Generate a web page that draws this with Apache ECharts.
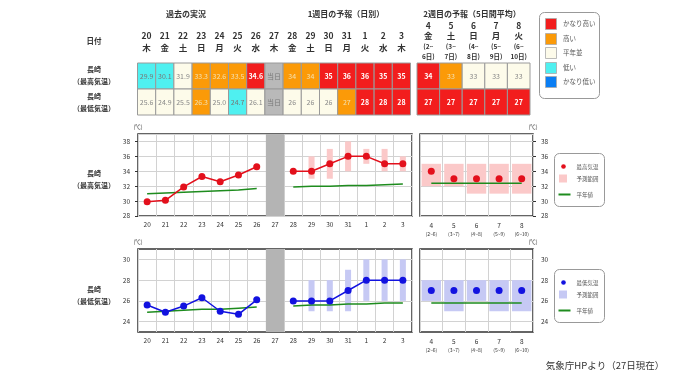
<!DOCTYPE html>
<html><head><meta charset="utf-8">
<script src="https://cdn.jsdelivr.net/npm/echarts@6/dist/echarts.min.js"></script>
<style>html,body{margin:0;padding:0;background:#fff}#c{width:680px;height:382px}</style>
</head><body><div id="c"></div>
<script>
const FONT = '"Noto Sans CJK JP", "Noto Sans", sans-serif';

// ---- table / axis categories ----
const days = ['20','21','22','23','24','25','26','27','28','29','30','31','1','2','3'];
const weekdays = ['木','金','土','日','月','火','水','木','金','土','日','月','火','水','木'];
const w2Days = ['4','5','6','7','8'];
const w2Weekdays = ['金','土','日','月','火'];
const w2Start = ['2','3','4','5','6'];
const w2End = ['6','7','8','9','10'];

// class: 0 かなり低い, 1 低い, 2 平年並, 3 高い, 4 かなり高い, -1 当日
const maxTableText = ['29.9','30.1','31.9','33.3','32.6','33.5','34.6','当日','34','34','35','36','36','35','35'];
const maxTableClass = [1,1,2,3,3,3,4,-1,3,3,4,4,4,4,4];
const minTableText = ['25.6','24.9','25.5','26.3','25.0','24.7','26.1','当日','26','26','26','27','28','28','28'];
const minTableClass = [2,2,2,3,2,1,2,-1,2,2,2,3,4,4,4];
const w2MaxText = ['34','33','33','33','33'];
const w2MaxClass = [4,3,2,2,2];
const w2MinText = ['27','27','27','27','27'];
const w2MinClass = [4,4,4,4,4];

// ---- chart series ----
const maxObs = [29.9,30.1,31.9,33.3,32.6,33.5,34.6,null,34,34,35,36,36,35,35];
const maxLow = [null,null,null,null,null,null,null,null,null,33,33,34,35,34,34];
const maxHigh = [null,null,null,null,null,null,null,null,null,36,37,38,37,37,36];
const maxNormal = [31.0,31.1,31.2,31.3,31.4,31.5,31.7,null,31.9,32.0,32.0,32.1,32.1,32.2,32.3];
const w2Max = [34,33,33,33,33];
const w2MaxLow = [32,32,31,31,31];
const w2MaxHigh = [35,35,35,35,35];
const w2MaxNormal = [32.4,32.4,32.4,32.4,32.4];

const minObs = [25.6,24.9,25.5,26.3,25.0,24.7,26.1,null,26,26,26,27,28,28,28];
const minLow = [null,null,null,null,null,null,null,null,null,25,25,25,26,26,26];
const minHigh = [null,null,null,null,null,null,null,null,null,28,28,29,30,30,30];
const minNormal = [24.9,25.0,25.1,25.2,25.2,25.3,25.4,null,25.5,25.6,25.6,25.7,25.7,25.8,25.8];
const w2Min = [27,27,27,27,27];
const w2MinLow = [26,25,26,25,25];
const w2MinHigh = [28,28,28,28,28];
const w2MinNormal = [25.8,25.8,25.8,25.8,25.8];

const classLabels = ['かなり高い','高い','平年並','低い','かなり低い'];
const classOrder = [4,3,2,1,0];
const classColors = {'-1':'#b9b9b9','0':'#0a7ef4','1':'#4ff0f0','2':'#fdfbea','3':'#fb9a08','4':'#f21d1d'};
const textColors = {'-1':'#7a7a7a','0':'#fff','1':'#777','2':'#888','3':'#f3e0b0','4':'#fff'};

const todayIndex = maxTableClass.indexOf(-1);

function cells(texts1, cls1, texts2, cls2){
  const out = [];
  texts1.forEach((t,i)=>out.push({v:[i,0], text:t, cls:cls1[i]}));
  texts2.forEach((t,i)=>out.push({v:[i,1], text:t, cls:cls2[i]}));
  return out;
}
const leftCells = cells(maxTableText, maxTableClass, minTableText, minTableClass);
const rightCells = cells(w2MaxText, w2MaxClass, w2MinText, w2MinClass);

function cellRender(list){
  return function(params, api){
    const c = list[params.dataIndex];
    const p = api.coord([api.value(0), api.value(1)]);
    const s = api.size([1,1]);
    return {type:'group', children:[
      {type:'rect', shape:{x:p[0]-s[0]/2, y:p[1]-s[1]/2, width:s[0], height:s[1]},
       style:{fill:classColors[c.cls], stroke:'#9a9a9a', lineWidth:1}},
      {type:'text', style:{text:c.text, x:p[0], y:p[1], align:'center', verticalAlign:'middle',
       fill:textColors[c.cls], fontSize:7, fontWeight:c.cls===4?'bold':'normal', fontFamily:FONT}}
    ]};
  };
}
function bandData(lo, hi){
  const out = [];
  lo.forEach((v,i)=>{ if(v!=null && hi[i]!=null) out.push([i, v, hi[i]]); });
  return out;
}
function bandRender(ratio, color){
  return function(params, api){
    const x = api.value(0);
    const p1 = api.coord([x, api.value(2)]);
    const p2 = api.coord([x, api.value(1)]);
    const w = api.size([1,0])[0]*ratio;
    return {type:'rect', shape:{x:p1[0]-w/2, y:p1[1], width:w, height:p2[1]-p1[1]}, style:{fill:color}};
  };
}
function grayRender(params, api){
  const cs = params.coordSys;
  const p = api.coord([api.value(0), api.value(1)]);
  const w = api.size([1,0])[0];
  return {type:'rect', shape:{x:p[0]-w/2, y:cs.y, width:w, height:cs.height}, style:{fill:'#b4b4b4'}};
}

const gridBase = {show:true, borderColor:'#333', borderWidth:1.5, backgroundColor:'transparent', containLabel:false};
const grids = [
  {left:137.5, top:63, width:273, height:52, show:false},
  {left:417, top:63, width:113, height:52, show:false},
  Object.assign({left:138, top:134, width:274, height:82}, gridBase),
  Object.assign({left:420, top:134, width:113, height:82}, gridBase),
  Object.assign({left:138, top:249, width:274, height:83}, gridBase),
  Object.assign({left:420, top:249, width:113, height:83}, gridBase)
];

const lbl = {fontSize:6.5, color:'#333', fontFamily:FONT};
const split = {show:true, lineStyle:{color:'#d2d2d2', width:1}};

function chartX(gi, data, week2){
  return {type:'category', gridIndex:gi, data:data, boundaryGap:true,
    axisLine:{show:false}, axisTick:{show:false},
    axisLabel: week2 ? {interval:0, margin:5, fontFamily:FONT, color:'#333',
        formatter:(v,i)=>`{a|${v}}\n{b|(${w2Start[i]}~${w2End[i]})}`,
        rich:{a:{fontSize:6.5, lineHeight:9, color:'#333', fontFamily:FONT}, b:{fontSize:5, lineHeight:8, color:'#333', fontFamily:FONT}}}
      : Object.assign({interval:0, margin:5}, lbl),
    splitLine:Object.assign({interval:0}, split)};
}
function maxY(gi, pos){
  return {type:'value', gridIndex:gi, position:pos, min:28, max:39, interval:2,
    axisLine:{show:false}, axisTick:{show:true, length:3, lineStyle:{color:'#333'}},
    axisLabel:Object.assign({margin:8, showMaxLabel:false}, lbl), splitLine:split,
    name:'(℃)', nameLocation:'end', nameGap:4, nameTextStyle:{fontSize:5.5, color:'#333', align:'center', fontFamily:FONT}};
}
function minY(gi, pos){
  return {type:'value', gridIndex:gi, position:pos, min:23, max:31, interval:1,
    axisLine:{show:false}, axisTick:{show:false},
    axisLabel:Object.assign({margin:8, formatter:v=>(v%2===0?String(v):'')}, lbl),
    splitLine:{show:true, lineStyle:{color:['rgba(0,0,0,0)','#d2d2d2'], width:1}},
    name:'(℃)', nameLocation:'end', nameGap:4, nameTextStyle:{fontSize:5.5, color:'#333', align:'center', fontFamily:FONT}};
}

const xAxes = [
  {type:'category', gridIndex:0, data:days, position:'top', axisLine:{show:false}, axisTick:{show:false}, splitLine:{show:false},
   axisLabel:{interval:0, margin:9, formatter:(v,i)=>`{d|${v}}\n{d|${weekdays[i]}}`,
     rich:{d:{fontSize:8.5, fontWeight:'bold', lineHeight:12, color:'#333', fontFamily:FONT}}}},
  {type:'category', gridIndex:1, data:w2Days, position:'top', axisLine:{show:false}, axisTick:{show:false}, splitLine:{show:false},
   axisLabel:{interval:0, margin:1, formatter:(v,i)=>`{d|${v}}\n{d|${w2Weekdays[i]}}\n{p|(${w2Start[i]}~}\n{p|${w2End[i]}日)}`,
     rich:{d:{fontSize:8.5, fontWeight:'bold', lineHeight:10, color:'#333', fontFamily:FONT},
           p:{fontSize:6.5, fontWeight:'bold', lineHeight:10.5, color:'#333', fontFamily:FONT}}}},
  chartX(2, days, false), chartX(3, w2Days, true), chartX(4, days, false), chartX(5, w2Days, true)
];
const yAxes = [
  {type:'category', gridIndex:0, data:['max','min'], inverse:true, show:false},
  {type:'category', gridIndex:1, data:['max','min'], inverse:true, show:false},
  maxY(2,'left'), maxY(3,'right'), minY(4,'left'), minY(5,'right')
];

const RED = '#e3101c', BLUE = '#1212e0', GREEN = '#1e8c1e';
const PINK = '#fbc9c9', LBLUE = '#c6c9f4';
function normalLine(ai, data){
  return {type:'line', xAxisIndex:ai, yAxisIndex:ai, data:data, symbol:'none', connectNulls:false,
    lineStyle:{color:GREEN, width:1.5}, z:3, silent:true};
}
function obsLine(ai, data, color, showLine){
  return {type:'line', xAxisIndex:ai, yAxisIndex:ai, data:data, symbol:'circle', symbolSize:7, connectNulls:false,
    showSymbol:true, itemStyle:{color:color}, lineStyle:{color:color, width:1.5, opacity:showLine?1:0}, z:4, silent:true};
}

const series = [
  {type:'custom', xAxisIndex:0, yAxisIndex:0, data:leftCells.map(c=>c.v), renderItem:cellRender(leftCells), silent:true},
  {type:'custom', xAxisIndex:1, yAxisIndex:1, data:rightCells.map(c=>c.v), renderItem:cellRender(rightCells), silent:true},
  {type:'custom', xAxisIndex:2, yAxisIndex:2, data:[[todayIndex, 30]], renderItem:grayRender, silent:true, z:2},
  {type:'custom', xAxisIndex:2, yAxisIndex:2, data:bandData(maxLow, maxHigh), renderItem:bandRender(0.33, PINK), silent:true, z:2},
  normalLine(2, maxNormal), obsLine(2, maxObs, RED, true),
  {type:'custom', xAxisIndex:3, yAxisIndex:3, data:bandData(w2MaxLow, w2MaxHigh), renderItem:bandRender(0.86, PINK), silent:true, z:2},
  normalLine(3, w2MaxNormal), obsLine(3, w2Max, RED, false),
  {type:'custom', xAxisIndex:4, yAxisIndex:4, data:[[todayIndex, 26]], renderItem:grayRender, silent:true, z:2},
  {type:'custom', xAxisIndex:4, yAxisIndex:4, data:bandData(minLow, minHigh), renderItem:bandRender(0.33, LBLUE), silent:true, z:2},
  normalLine(4, minNormal), obsLine(4, minObs, BLUE, true),
  {type:'custom', xAxisIndex:5, yAxisIndex:5, data:bandData(w2MinLow, w2MinHigh), renderItem:bandRender(0.86, LBLUE), silent:true, z:2},
  normalLine(5, w2MinNormal), obsLine(5, w2Min, BLUE, false)
];

// ---- graphics: headers, row labels, legends ----
function txt(x, y, text, o){
  return Object.assign({type:'text', x:x, y:y, silent:true,
    style:Object.assign({text:text, align:'center', verticalAlign:'middle', fill:'#333', fontSize:8, fontFamily:FONT}, o||{})});
}
const g = [];
g.push(txt(186, 14, '過去の実況', {fontWeight:'bold'}));
g.push(txt(346, 14, '1週目の予報（日別）', {fontWeight:'bold'}));
g.push(txt(472, 14, '2週目の予報（5日間平均）', {fontWeight:'bold'}));
g.push(txt(94, 41, '日付', {fontWeight:'bold', fontSize:7.5}));
const rowLabels = [[69,'長崎'],[81,'（最高気温）'],[96,'長崎'],[108,'（最低気温）'],
                   [173,'長崎'],[185,'（最高気温）'],[289,'長崎'],[301,'（最低気温）']];
rowLabels.forEach(r=>g.push(txt(94, r[0], r[1], {fontWeight:'bold', fontSize:7})));
g.push(txt(605, 365, '気象庁HPより（27日現在）', {fontSize:9.5, fill:'#333'}));

// class legend
g.push({type:'rect', silent:true, shape:{x:539.5, y:12.5, width:60, height:86, r:5}, style:{fill:'#fff', stroke:'#999', lineWidth:1}});
const legY = [24, 39, 53, 68, 82];
classOrder.forEach((cls, k)=>{
  g.push({type:'rect', silent:true, shape:{x:545.5, y:legY[k]-5.5, width:11, height:11}, style:{fill:classColors[cls], stroke:'#aaa', lineWidth:0.8}});
  g.push(txt(563, legY[k], classLabels[k], {align:'left', fontSize:6.5, fill:'#555'}));
});

function seriesLegend(x, y, dotColor, bandColor, names){
  g.push({type:'rect', silent:true, shape:{x:x, y:y, width:50, height:53, r:5}, style:{fill:'#fff', stroke:'#999', lineWidth:1}});
  g.push({type:'circle', silent:true, shape:{cx:x+9, cy:y+13, r:2.3}, style:{fill:dotColor}});
  g.push({type:'rect', silent:true, shape:{x:x+4.5, y:y+21, width:8, height:8}, style:{fill:bandColor}});
  g.push({type:'line', silent:true, shape:{x1:x+4, y1:y+41, x2:x+16, y2:y+41}, style:{stroke:GREEN, lineWidth:2}});
  [13, 25, 41].forEach((dy,k)=>g.push(txt(x+22, y+dy, names[k], {align:'left', fontSize:5.5, fill:'#555'})));
}
seriesLegend(554.5, 153.5, RED, PINK, ['最高気温','予測範囲','平年値']);
seriesLegend(554.5, 269.5, BLUE, LBLUE, ['最低気温','予測範囲','平年値']);

const chart = echarts.init(document.getElementById('c'), null, {renderer:'canvas'});
chart.setOption({
  animation:false, backgroundColor:'#fff',
  textStyle:{fontFamily:FONT},
  grid:grids, xAxis:xAxes, yAxis:yAxes, series:series, graphic:g
});
</script></body></html>
